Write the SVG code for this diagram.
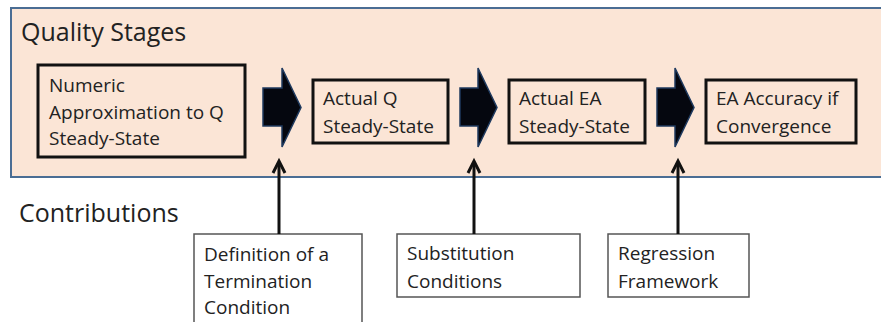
<svg xmlns="http://www.w3.org/2000/svg" width="881" height="322" viewBox="0 0 881 322">
<defs>
<style>
text{font-family:"Open Sans","Liberation Sans",sans-serif;fill:#222;}
.h{font-size:25px;}
.t{font-size:19px;}
.stage{fill:#fbe5d6;stroke:#111;stroke-width:3;}
.contrib{fill:#fff;stroke:#555;stroke-width:1.5;}
.chev{fill:#05070f;stroke:#1f3a5f;stroke-width:1.5;stroke-linejoin:miter;}
.up{fill:none;stroke:#111;stroke-width:3;}
.head{fill:none;stroke:#111;stroke-width:3;stroke-linejoin:miter;}
</style>
</defs>
<rect x="0" y="0" width="881" height="322" fill="#fff"/>
<g id="panel">
<rect x="11" y="8" width="900" height="169" fill="#fbe5d6" stroke="#4a6d94" stroke-width="2"/>
<text class="h" x="21" y="41">Quality Stages</text>
</g>
<text class="h" x="19" y="222">Contributions</text>
<g id="stage1">
<rect class="stage" x="38" y="65" width="207" height="92"/>
<text class="t" x="49" y="92">Numeric</text>
<text class="t" x="49" y="119">Approximation to Q</text>
<text class="t" x="49" y="145">Steady-State</text>
</g>
<g id="stage2">
<rect class="stage" x="313" y="80" width="135" height="63"/>
<text class="t" x="323" y="105">Actual Q</text>
<text class="t" x="323" y="133">Steady-State</text>
</g>
<g id="stage3">
<rect class="stage" x="509" y="80" width="136" height="63"/>
<text class="t" x="519" y="105">Actual EA</text>
<text class="t" x="519" y="133">Steady-State</text>
</g>
<g id="stage4">
<rect class="stage" x="706" y="80" width="150" height="63"/>
<text class="t" x="716" y="105">EA Accuracy if</text>
<text class="t" x="716" y="133">Convergence</text>
</g>
<g id="contribA">
<rect class="contrib" x="194" y="234" width="168" height="100"/>
<text class="t" x="204" y="261">Definition of a</text>
<text class="t" x="204" y="288">Termination</text>
<text class="t" x="204" y="314">Condition</text>
</g>
<g id="contribB">
<rect class="contrib" x="397" y="234" width="183" height="63"/>
<text class="t" x="407" y="260">Substitution</text>
<text class="t" x="407" y="288">Conditions</text>
</g>
<g id="contribC">
<rect class="contrib" x="608" y="234" width="141" height="63"/>
<text class="t" x="618" y="260">Regression</text>
<text class="t" x="618" y="288">Framework</text>
</g>
<g id="connectors">
<path class="chev" d="M263,88 H282 V68 L301,107.5 L282,147 V126 H263 Z"/>
<path class="chev" d="M460,88 H478 V68 L497,107.5 L478,147 V126 H460 Z"/>
<path class="chev" d="M657,88 H675 V68 L694,107.5 L675,147 V126 H657 Z"/>
<line class="up" x1="279" y1="234" x2="279" y2="162"/>
<path class="head" d="M273,173 L279,161 L285,173"/>
<line class="up" x1="474" y1="234" x2="474" y2="162"/>
<path class="head" d="M468,173 L474,161 L480,173"/>
<line class="up" x1="678" y1="234" x2="678" y2="162"/>
<path class="head" d="M672,173 L678,161 L684,173"/>
</g>
</svg>
